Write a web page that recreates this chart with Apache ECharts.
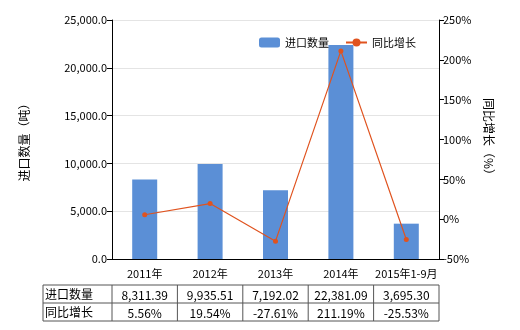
<!DOCTYPE html>
<html><head><meta charset="utf-8">
<script src="https://cdn.jsdelivr.net/npm/echarts@6/dist/echarts.min.js"></script>
<style>html,body{margin:0;padding:0;background:#fff}#c{width:520px;height:330px}</style>
</head><body><div id="c"></div>
<script>
const categories = ['2011年','2012年','2013年','2014年','2015年1-9月'];
const importQty = [8311.39, 9935.51, 7192.02, 22381.09, 3695.30];
const yoyGrowth = [5.56, 19.54, -27.61, 211.19, -25.53];
const rowLabels = ['进口数量','同比增长'];
const seriesNames = ['进口数量','同比增长'];

const FONT = '"Noto Sans CJK SC", "Noto Sans", sans-serif';
const chart = echarts.init(document.getElementById('c'));
const G = {left:112, right:81, top:20, bottom:71};
const plotL = G.left, plotR = 520 - G.right;
const tTop = 285, rowH = 18, labelColL = 43;
const colW = (plotR - plotL) / categories.length;

function fmtNum(v){return v.toLocaleString('en-US',{minimumFractionDigits:2,maximumFractionDigits:2});}

const graphics = [];
const tBottom = tTop + rowH*2;
graphics.push({type:'rect', shape:{x:labelColL,y:tTop,width:plotR-labelColL,height:rowH*2}, style:{fill:'none',stroke:'#555',lineWidth:1}});
graphics.push({type:'line', shape:{x1:labelColL,y1:tTop+rowH,x2:plotR,y2:tTop+rowH}, style:{stroke:'#555',lineWidth:1}});
for(let i=0;i<categories.length;i++){
  const x = plotL + i*colW;
  graphics.push({type:'line', shape:{x1:x,y1:tTop,x2:x,y2:tBottom}, style:{stroke:'#555',lineWidth:1}});
}
rowLabels.forEach((t,r)=>{
  graphics.push({type:'text', x:labelColL+2, y:tTop+r*rowH+rowH/2, style:{text:t, fill:'#000', font:'12px '+FONT, verticalAlign:'middle', align:'left'}});
});
categories.forEach((c,i)=>{
  const cx = plotL + (i+0.5)*colW;
  graphics.push({type:'text', x:cx, y:tTop+rowH/2+1.5, style:{text:fmtNum(importQty[i]), fill:'#000', font:'12px '+FONT, verticalAlign:'middle', align:'center'}});
  graphics.push({type:'text', x:cx, y:tTop+rowH*1.5+1.5, style:{text:yoyGrowth[i].toFixed(2)+'%', fill:'#000', font:'12px '+FONT, verticalAlign:'middle', align:'center'}});
});

chart.setOption({
  animation:false,
  textStyle:{fontFamily:FONT},
  grid:{left:G.left, right:G.right, top:G.top, bottom:G.bottom},
  legend:{
    top:32, left:254, itemGap:16, itemWidth:21, itemHeight:10,
    textStyle:{fontSize:11, color:'#000', fontFamily:FONT},
    data:[{name:seriesNames[0]},{name:seriesNames[1]}]
  },
  xAxis:{
    type:'category', data:categories, boundaryGap:true,
    axisLine:{lineStyle:{color:'#000'}},
    axisTick:{alignWithLabel:true, lineStyle:{color:'#000'}},
    axisLabel:{color:'#000', fontSize:11, margin:9, fontFamily:FONT, interval:0}
  },
  yAxis:[{
    type:'value', min:0, max:25000, interval:5000,
    name:'进口数量（吨）', nameLocation:'middle', nameGap:82, nameRotate:90,
    nameTextStyle:{fontSize:12, color:'#000', fontFamily:FONT},
    axisLine:{show:true, lineStyle:{color:'#000'}},
    axisTick:{show:true, lineStyle:{color:'#000'}},
    axisLabel:{color:'#000', fontSize:11, margin:5, formatter:v=>fmtNum(v).replace(/\.(\d)\d$/,'.$1')},
    splitLine:{lineStyle:{color:'#e4e4e4'}}
  },{
    type:'value', min:-50, max:250, interval:50,
    name:'同比增长（%）', nameLocation:'middle', nameGap:44, nameRotate:-90,
    nameTextStyle:{fontSize:12, color:'#000', fontFamily:FONT},
    axisLine:{show:true, lineStyle:{color:'#000'}},
    axisTick:{show:true, lineStyle:{color:'#000'}},
    axisLabel:{color:'#000', fontSize:11, margin:4, formatter:'{value}%'},
    splitLine:{show:false}
  }],
  series:[{
    name:seriesNames[0], type:'bar', data:importQty, barWidth:25,
    itemStyle:{color:'#5b8fd6'}
  },{
    name:seriesNames[1], type:'line', yAxisIndex:1, data:yoyGrowth,
    symbol:'circle', symbolSize:5,
    lineStyle:{color:'#e0531f', width:1.2},
    itemStyle:{color:'#e0531f'}
  }],
  graphic:graphics
});
</script></body></html>
